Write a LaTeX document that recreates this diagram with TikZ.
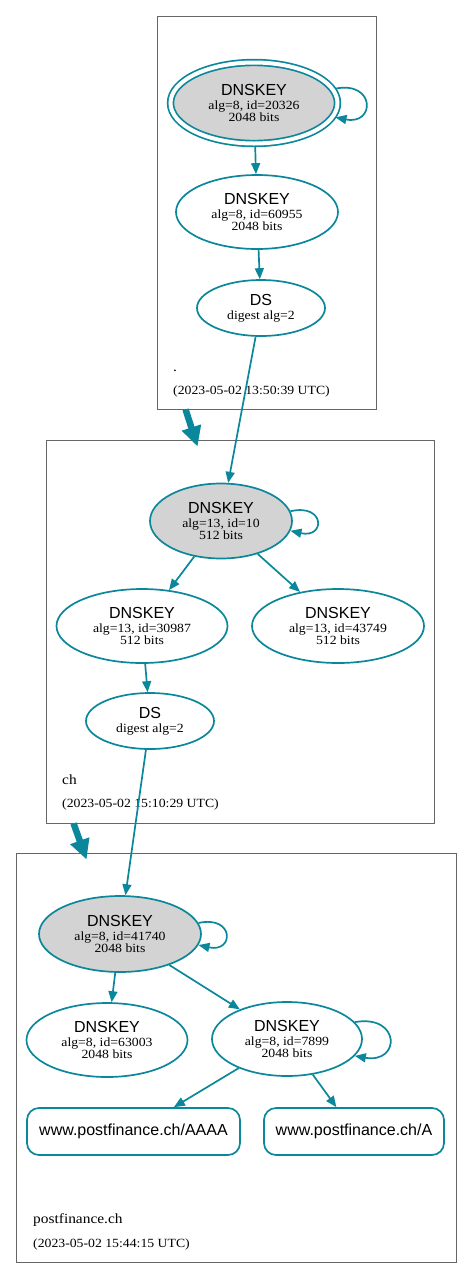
\documentclass[tikz,border=0pt]{standalone}
\usepackage{fontspec}
\setmainfont{Liberation Serif}
\newfontfamily\labelfont{Liberation Sans}
\newfontfamily\widefont[FakeStretch=1.1]{Liberation Serif}
\usetikzlibrary{shapes.geometric,arrows.meta,calc}
\definecolor{secure}{HTML}{0A879A}
\definecolor{sepgray}{HTML}{D3D3D3}
\newcommand\rrname[1]{{\labelfont\fontsize{16}{18}\selectfont #1}}

\begin{document}
\begin{tikzpicture}[
    x=1pt,y=-1pt,
    dnskey/.style={ellipse,draw=secure,line width=1.7pt,inner sep=0pt,align=center,
        font=\widefont\fontsize{12.5}{11.5}\selectfont},
    sepkey/.style={dnskey,fill=sepgray},
    rrset/.style={draw=secure,line width=1.7pt,rounded corners=12pt,inner sep=0pt,
        font=\labelfont\fontsize{16}{18}\selectfont},
    zonebox/.style={draw=black!60,line width=0.9pt,inner sep=0pt},
    zonename/.style={anchor=base west,inner sep=0pt,font=\widefont\fontsize{14}{16}\selectfont},
    stamp/.style={anchor=base west,inner sep=0pt,font=\widefont\fontsize{12.5}{14}\selectfont},
    link/.style={draw=secure,line width=1.7pt,-{Triangle[length=11pt,width=9pt]}},
    zonelink/.style={draw=secure,line width=6.5pt,-{Triangle[length=20pt,width=19pt]}}
]
\useasboundingbox (0,0) rectangle (472,1278);

% zones
\node[zonebox,minimum width=219pt,minimum height=393pt] (rootzone) at (266.5,212.5) {};
\node[zonebox,minimum width=388pt,minimum height=383pt] (chzone) at (240,631.5) {};
\node[zonebox,minimum width=440pt,minimum height=409pt] (pfzone) at (236,1057.5) {};

\node[zonename] (rootname) at (173,371) {.};
\node[stamp] (rootstamp) at (173,394) {(2023-05-02 13:50:39 UTC)};
\node[zonename] (chname) at (62,784) {ch};
\node[stamp] (chstamp) at (62,807) {(2023-05-02 15:10:29 UTC)};
\node[zonename] (pfname) at (33,1223) {postfinance.ch};
\node[stamp] (pfstamp) at (33,1247) {(2023-05-02 15:44:15 UTC)};

% root
\node[sepkey,double=white,double distance=4pt,outer sep=2.85pt,
      minimum width=167pt,minimum height=81pt] (rootk20326) at (254,103)
    {\rrname{DNSKEY}\\[2.5pt]alg=8, id=20326\\2048 bits};
\node[dnskey,minimum width=162pt,minimum height=74pt] (rootk60955) at (257,212)
    {\rrname{DNSKEY}\\[2.5pt]alg=8, id=60955\\2048 bits};
\node[dnskey,minimum width=128pt,minimum height=56pt] (rootds) at (261,308)
    {\rrname{DS}\\[2.5pt]digest alg=2};

% ch
\node[sepkey,minimum width=142pt,minimum height=75pt] (chk10) at (221,521)
    {\rrname{DNSKEY}\\[2.5pt]alg=13, id=10\\512 bits};
\node[dnskey,minimum width=171pt,minimum height=74pt] (chk30987) at (142,626)
    {\rrname{DNSKEY}\\[2.5pt]alg=13, id=30987\\512 bits};
\node[dnskey,minimum width=172pt,minimum height=74pt] (chk43749) at (338,626)
    {\rrname{DNSKEY}\\[2.5pt]alg=13, id=43749\\512 bits};
\node[dnskey,minimum width=128pt,minimum height=56pt] (chds) at (150,721)
    {\rrname{DS}\\[2.5pt]digest alg=2};

% postfinance.ch
\node[sepkey,minimum width=162pt,minimum height=76pt] (pfk41740) at (120,934)
    {\rrname{DNSKEY}\\[2.5pt]alg=8, id=41740\\2048 bits};
\node[dnskey,minimum width=161pt,minimum height=74pt] (pfk63003) at (107,1040)
    {\rrname{DNSKEY}\\[2.5pt]alg=8, id=63003\\2048 bits};
\node[dnskey,minimum width=150pt,minimum height=74pt] (pfk7899) at (287,1039)
    {\rrname{DNSKEY}\\[2.5pt]alg=8, id=7899\\2048 bits};
\node[rrset,minimum width=213pt,minimum height=47pt] (pfaaaa) at (133.5,1131.5) {www.postfinance.ch/AAAA};
\node[rrset,minimum width=180pt,minimum height=47pt] (pfa) at (354,1131.5) {www.postfinance.ch/A};

% edges
\draw[link] (rootk20326.10) .. controls +(40,-8) and +(40,8) .. (rootk20326.-10);
\draw[link] (rootk20326) -- (rootk60955);
\draw[link] (rootk60955) -- (rootds);
\draw[link] (rootds) -- (chk10);
\draw[link] (chk10.8) .. controls +(35,-8) and +(35,8) .. (chk10.-8);
\draw[link] (chk10) -- (chk30987);
\draw[link] (chk10) -- (chk43749);
\draw[link] (chk30987) -- (chds);
\draw[link] (chds) -- (pfk41740);
\draw[link] (pfk41740.8) .. controls +(36,-8) and +(36,8) .. (pfk41740.-8);
\draw[link] (pfk41740) -- (pfk63003);
\draw[link] (pfk41740) -- (pfk7899);
\draw[link] (pfk7899.14) .. controls +(46,-8) and +(46,8) .. (pfk7899.-14);
\draw[link] (pfk7899) -- (pfaaaa);
\draw[link] (pfk7899) -- (pfa);

\draw[zonelink] ($(rootzone.south west)+(29,0)$) -- ($(chzone.north west)+(152,7)$);
\draw[zonelink] ($(chzone.south west)+(28,0)$) -- ($(pfzone.north west)+(71,7)$);
\end{tikzpicture}
\end{document}
